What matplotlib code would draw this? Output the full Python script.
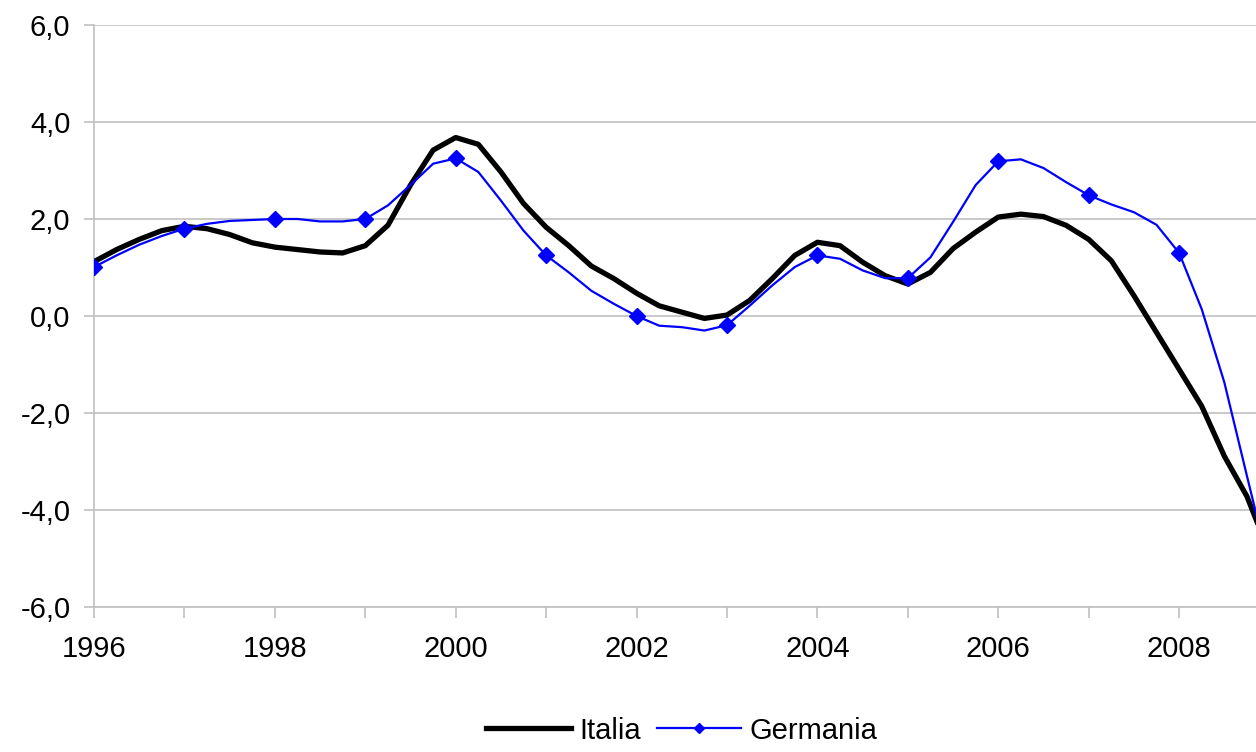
import matplotlib
matplotlib.use("Agg")
import matplotlib.pyplot as plt
from matplotlib.ticker import FuncFormatter, MultipleLocator

plt.rcParams['font.family'] = ['Liberation Sans', 'DejaVu Sans']

# quarterly positions, 1996 Q1 .. 2008 Q4 (+ one point past the visible edge)
quarters = [1996 + i * 0.25 for i in range(53)]

italia = [1.12, 1.37, 1.58, 1.76, 1.85, 1.80, 1.68, 1.51,
          1.42, 1.37, 1.32, 1.30, 1.45, 1.87, 2.70, 3.42,
          3.68, 3.54, 2.97, 2.32, 1.83, 1.45, 1.03, 0.77,
          0.47, 0.21, 0.08, -0.05, 0.02, 0.32, 0.77, 1.25,
          1.52, 1.45, 1.11, 0.83, 0.66, 0.90, 1.39, 1.73,
          2.04, 2.10, 2.05, 1.87, 1.58, 1.14, 0.42, -0.34,
          -1.10, -1.86, -2.89, -3.72, -4.90]

germania = [1.01, 1.25, 1.47, 1.65, 1.80, 1.90, 1.96, 1.98,
            2.00, 2.00, 1.95, 1.95, 2.00, 2.28, 2.70, 3.14,
            3.25, 2.97, 2.38, 1.76, 1.25, 0.90, 0.52, 0.25,
            0.00, -0.20, -0.23, -0.30, -0.19, 0.21, 0.63, 1.01,
            1.25, 1.18, 0.94, 0.78, 0.78, 1.21, 1.94, 2.70,
            3.19, 3.23, 3.05, 2.76, 2.49, 2.30, 2.14, 1.88,
            1.30, 0.14, -1.37, -3.30, -5.20]

year_ticks = list(range(1996, 2009))
year_labels = [str(y) if y % 2 == 0 else "" for y in year_ticks]

fig = plt.figure(figsize=(12.56, 7.52), dpi=100)
ax = fig.add_axes([94 / 1256, 1 - 607 / 752, 1 - 94 / 1256, (607 - 25) / 752])

grid_col = "#c0c0c0"

ax.plot(quarters, italia, color="black", lw=3.8, label="Italia",
        solid_joinstyle="round", zorder=3)
ax.plot(quarters, germania, color="#0000ff", lw=1.6, marker="D", ms=8,
        markevery=4, label="Germania", zorder=4)

ax.set_xlim(1996, 2008.85)
ax.set_ylim(-6, 6)

ax.yaxis.set_major_locator(MultipleLocator(2))
ax.yaxis.set_major_formatter(FuncFormatter(lambda v, p: f"{v:.1f}".replace(".", ",")))
ax.set_xticks(year_ticks)
ax.set_xticklabels(year_labels)

ax.grid(axis="y", color=grid_col, lw=1.2)
ax.set_axisbelow(True)
for s in ["top", "right"]:
    ax.spines[s].set_visible(False)
ax.spines["left"].set_color(grid_col)
ax.spines["left"].set_linewidth(1.2)
ax.spines["bottom"].set_color(grid_col)
ax.spines["bottom"].set_linewidth(1.2)

ax.tick_params(axis="y", length=7, width=1.2, color=grid_col, labelsize=21, pad=10)
ax.tick_params(axis="x", length=8, width=1.2, color=grid_col, labelsize=21, pad=12)

fig.legend(loc="lower center", bbox_to_anchor=(0.543, -0.025), ncol=2, frameon=False,
           fontsize=21, handlelength=2.9, handletextpad=0.28, columnspacing=0.55,
           markerscale=0.7)

fig.savefig("out.png", dpi=100)
